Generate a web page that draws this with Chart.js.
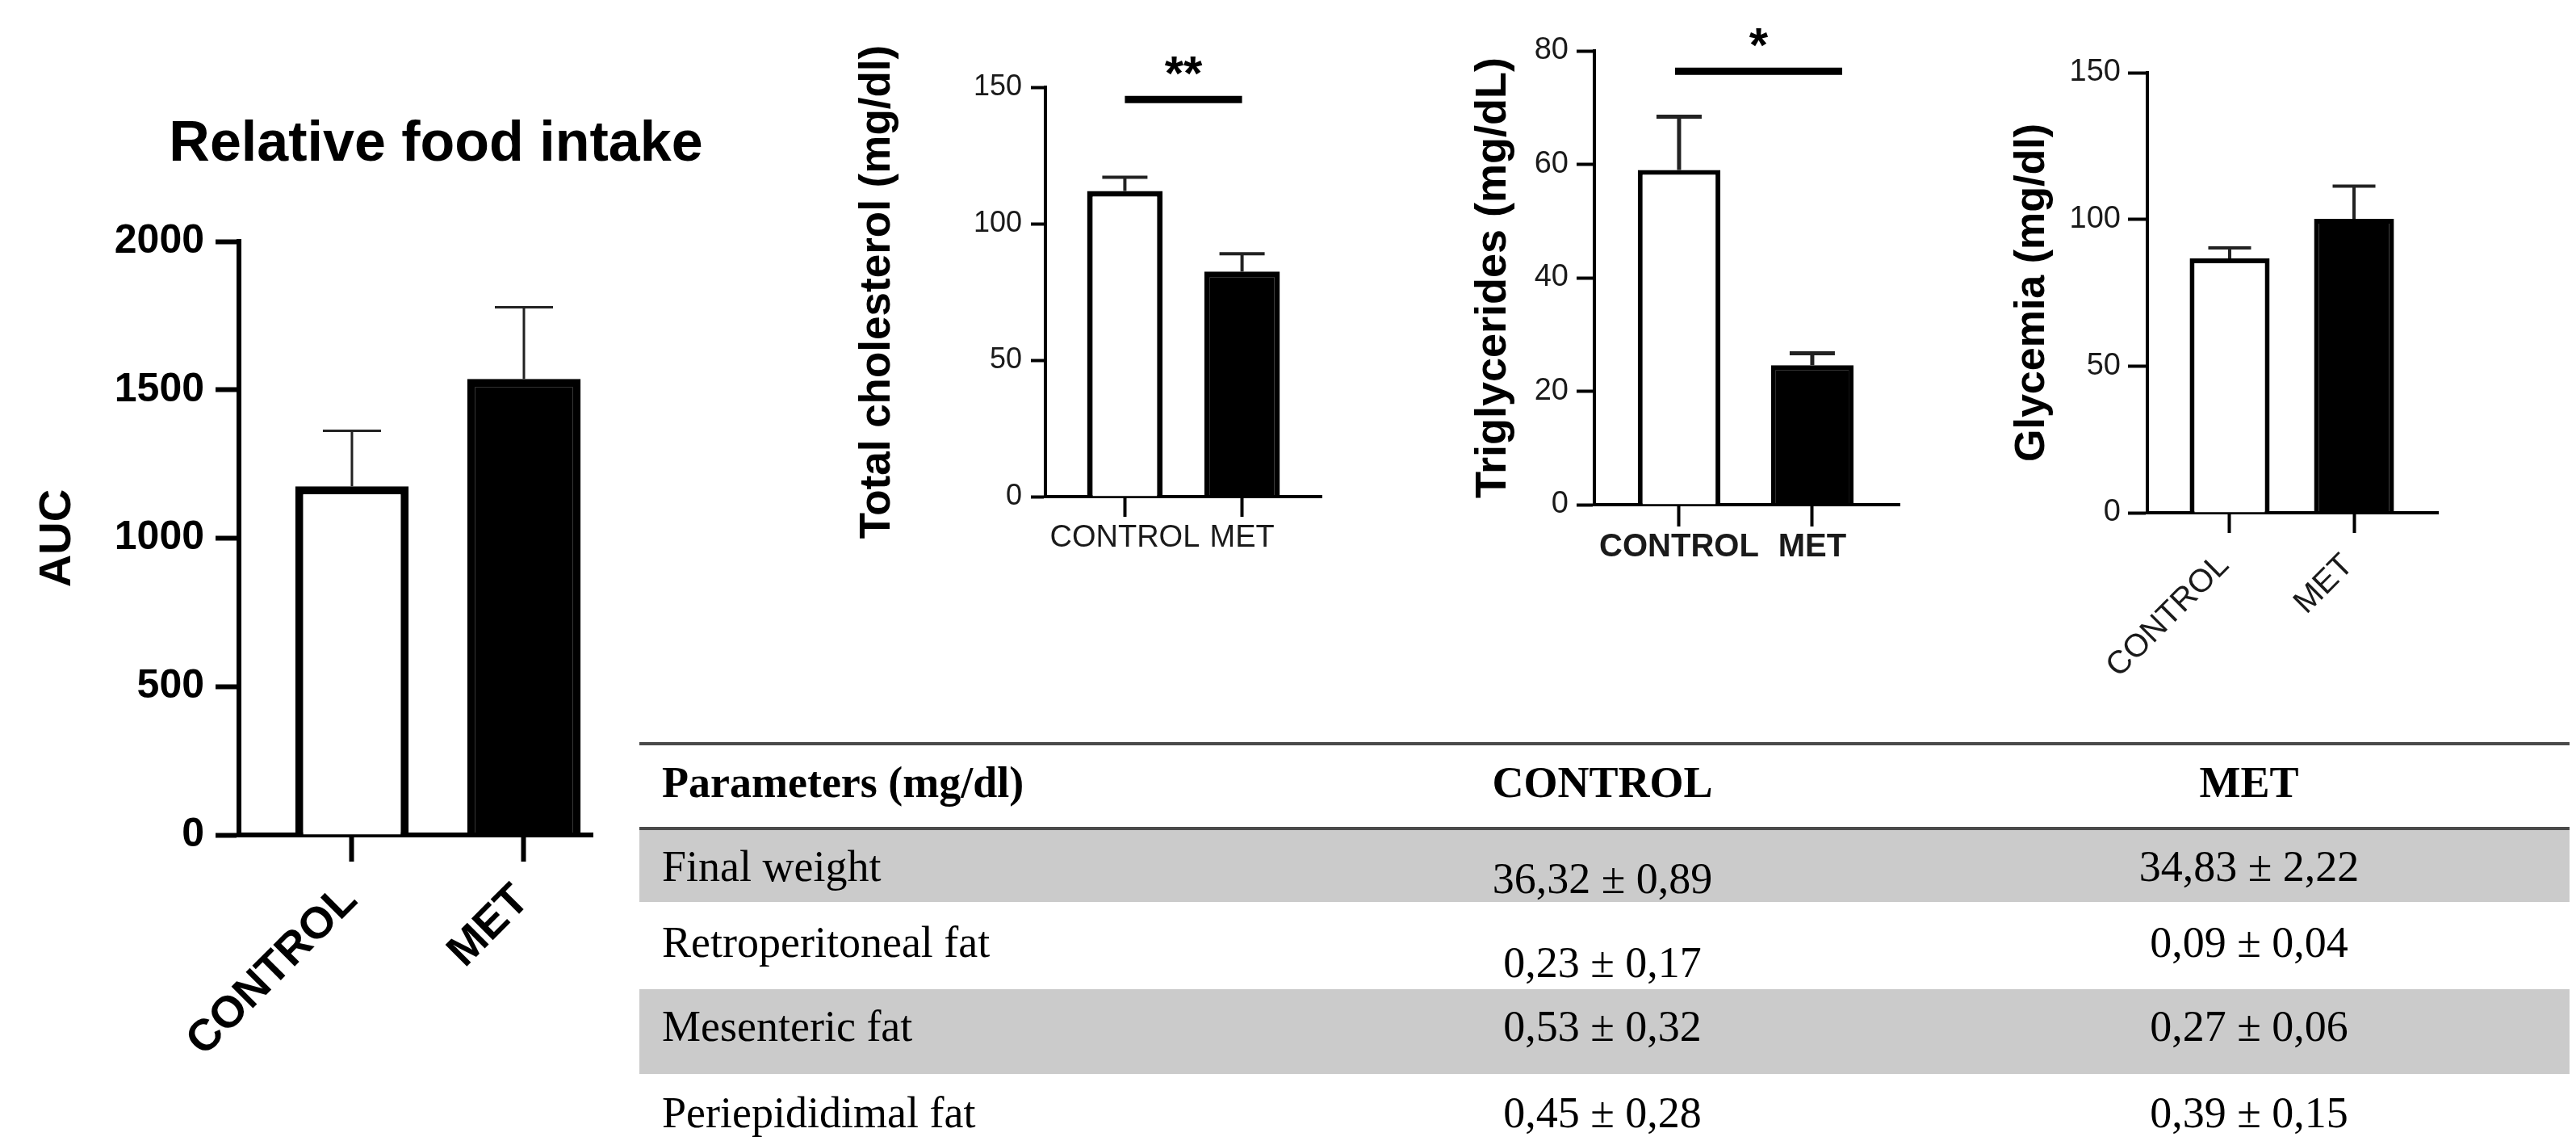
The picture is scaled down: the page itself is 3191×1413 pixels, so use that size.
<!DOCTYPE html>
<html>
<head>
<meta charset="utf-8">
<script src="https://cdn.jsdelivr.net/npm/chart.js@4.4.1/dist/chart.umd.min.js"></script>
<style>
  html, body { margin: 0; padding: 0; background: #fff; }
  body { width: 3191px; height: 1413px; position: relative; overflow: hidden; }
  canvas { position: absolute; }
  #tabela { position: absolute; left: 792px; top: 919px; width: 2391px; height: 494px;
            font-family: "Liberation Serif", "Times New Roman", serif; font-size: 54px; color: #000; }
  .regra { position: absolute; left: 0; width: 100%; height: 4px; background: #4a4a4a; }
  .faixa { position: absolute; left: 0; width: 100%; background: #cbcbcb; }
  .txt { position: absolute; white-space: nowrap; line-height: 54px; }
  .centro { transform: translateX(-50%); }
  .neg { font-weight: bold; }
</style>
</head>
<body>
<canvas id="consumo" width="1080" height="1413" style="left:0;top:0"></canvas>
<canvas id="colesterol" width="700" height="720" style="left:1000px;top:0"></canvas>
<canvas id="triglicerides" width="700" height="720" style="left:1700px;top:0"></canvas>
<canvas id="glicemia" width="700" height="900" style="left:2400px;top:0"></canvas>
<div id="tabela"></div>

<script>
const grupos = ['CONTROL', 'MET'];

// Relative food intake (AUC)
const consumoMedia = [1175, 1537];
const consumoErro = [187, 241];
const consumoTicks = [0, 500, 1000, 1500, 2000];

// Total cholesterol (mg/dl)
const colesterolMedia = [112, 82.5];
const colesterolErro = [5, 6.5];
const colesterolTicks = [0, 50, 100, 150];

// Triglycerides (mg/dL)
const trigliceridesMedia = [59, 24.6];
const trigliceridesErro = [9.4, 2.1];
const trigliceridesTicks = [0, 20, 40, 60, 80];

// Glycemia (mg/dl)
const glicemiaMedia = [86.7, 100.2];
const glicemiaErro = [3.6, 11.1];
const glicemiaTicks = [0, 50, 100, 150];

// tabela
const cabecalho = ['Parameters (mg/dl)', 'CONTROL', 'MET'];
const parametros = ['Final weight', 'Retroperitoneal fat', 'Mesenteric fat', 'Periepididimal fat'];
const valoresControl = ['36,32 ± 0,89', '0,23 ± 0,17', '0,53 ± 0,32', '0,45 ± 0,28'];
const valoresMet = ['34,83 ± 2,22', '0,09 ± 0,04', '0,27 ± 0,06', '0,39 ± 0,15'];

Chart.defaults.font.family = '"Liberation Sans", Arial, sans-serif';

const barrasErro = {
  id: 'barrasErro',
  afterDatasetsDraw(chart, args, opts) {
    const { ctx } = chart;
    const x = chart.scales.x;
    const y = chart.scales.y;
    const pontos = chart.data.datasets[0].data;
    ctx.save();
    ctx.strokeStyle = opts.cor;
    ctx.lineWidth = opts.largura;
    ctx.lineCap = 'butt';
    opts.erros.forEach((e, i) => {
      const px = x.getPixelForValue(pontos[i].x);
      const yBarra = y.getPixelForValue(pontos[i].y);
      const yTopo = y.getPixelForValue(pontos[i].y + e);
      ctx.beginPath();
      ctx.moveTo(px, yBarra);
      ctx.lineTo(px, yTopo);
      ctx.moveTo(px - opts.cap / 2, yTopo);
      ctx.lineTo(px + opts.cap / 2, yTopo);
      ctx.stroke();
    });
    const sig = opts.sig;
    if (sig) {
      const x1 = x.getPixelForValue(1) + sig.extra[0];
      const x2 = x.getPixelForValue(2) + sig.extra[1];
      const yl = y.getPixelForValue(sig.linha);
      ctx.strokeStyle = '#000';
      ctx.lineWidth = 9;
      ctx.beginPath();
      ctx.moveTo(x1, yl);
      ctx.lineTo(x2, yl);
      ctx.stroke();
      const tam = 60;
      ctx.fillStyle = '#000';
      ctx.font = 'bold ' + tam + 'px "Liberation Sans", Arial, sans-serif';
      ctx.textAlign = 'center';
      ctx.textBaseline = 'alphabetic';
      ctx.fillText(sig.texto, (x1 + x2) / 2, y.getPixelForValue(sig.estrela) + 0.47 * tam);
    }
    ctx.restore();
  }
};

function montarGrafico(id, p) {
  const escalas = {
    x: {
      type: 'linear',
      min: p.xMin,
      max: p.xMax,
      offset: false,
      afterBuildTicks: s => { s.ticks = grupos.map((g, i) => ({ value: i + 1 })); },
      afterFit: s => { s.height = p.alturaX; },
      ticks: {
        autoSkip: false,
        minRotation: p.rot,
        maxRotation: p.rot,
        padding: p.xPad,
        labelOffset: p.xDesloc || 0,
        color: p.corTexto,
        font: p.fonteX,
        callback: v => grupos[v - 1]
      },
      grid: { offset: false, drawOnChartArea: false, tickLength: p.tickX, tickWidth: p.eixo, tickColor: '#000' },
      border: { color: '#000', width: p.eixo }
    },
    y: {
      min: 0,
      max: p.ticks[p.ticks.length - 1],
      afterBuildTicks: s => { s.ticks = p.ticks.map(v => ({ value: v })); },
      afterFit: s => { s.width = p.larguraY; },
      ticks: { padding: p.yPad, color: p.corTexto, font: p.fonteY, callback: v => String(v) },
      grid: { drawOnChartArea: false, tickLength: p.tickY, tickWidth: p.eixo, tickColor: '#000' },
      border: { color: '#000', width: p.eixo },
      title: {
        display: true,
        text: p.tituloY,
        color: '#000',
        font: { size: p.tamTituloY, weight: 'bold', lineHeight: 1.2 },
        padding: { top: p.padTituloY, bottom: 0 }
      }
    }
  };
  // espaço vazio à direita, para o título ficar centrado como no original
  if (p.espacoDir) {
    escalas.vazio = {
      type: 'linear',
      position: 'right',
      grid: { display: false },
      border: { display: false },
      ticks: { display: false },
      afterFit: s => { s.width = p.espacoDir; }
    };
  }
  return new Chart(document.getElementById(id), {
    type: 'bar',
    data: {
      datasets: [{
        data: p.media.map((v, i) => ({ x: i + 1, y: v })),
        backgroundColor: ['#ffffff', '#000000'],
        borderColor: '#000000',
        borderWidth: p.borda,
        barPercentage: p.barra,
        categoryPercentage: 1
      }]
    },
    options: {
      responsive: false,
      animation: false,
      layout: { padding: p.padding },
      plugins: {
        legend: { display: false },
        tooltip: { enabled: false },
        title: p.titulo || { display: false },
        barrasErro: { erros: p.erro, cor: '#222', largura: p.larguraErro, cap: p.cap, sig: p.sig }
      },
      scales: escalas
    },
    plugins: [barrasErro]
  });
}

montarGrafico('consumo', {
  media: consumoMedia, erro: consumoErro, ticks: consumoTicks,
  titulo: {
    display: true, text: 'Relative food intake', color: '#000',
    font: { size: 70, weight: 'bold', lineHeight: 1.2 },
    padding: { top: 138, bottom: 77 }
  },
  padding: { left: 0, right: 0, top: 0, bottom: 0 },
  espacoDir: 346,
  xMin: 0.343, xMax: 2.399, barra: 0.66, borda: 10,
  alturaX: 379, larguraY: 296, eixo: 6,
  tickX: 33, xPad: 16, xDesloc: -2, rot: 45, fonteX: { size: 55, weight: 'bold' },
  tickY: 29, yPad: 14, fonteY: { size: 50, weight: 'bold' },
  corTexto: '#000',
  tituloY: 'AUC', tamTituloY: 56, padTituloY: 38,
  larguraErro: 3, cap: 72
});

montarGrafico('colesterol', {
  media: colesterolMedia, erro: colesterolErro, ticks: colesterolTicks,
  padding: { left: 0, right: 63, top: 108, bottom: 0 },
  xMin: 0.322, xMax: 2.678, barra: 0.645, borda: 7,
  alturaX: 105, larguraY: 295, eixo: 4,
  tickX: 25, xPad: 4, rot: 0, fonteX: { size: 38 },
  tickY: 18, yPad: 11, fonteY: { size: 36 },
  corTexto: '#1a1a1a',
  tituloY: 'Total cholesterol (mg/dl)', tamTituloY: 53, padTituloY: 56,
  larguraErro: 4, cap: 56,
  sig: { texto: '**', linha: 145.5, estrela: 157.5, extra: [0, 0] }
});

montarGrafico('triglicerides', {
  media: trigliceridesMedia, erro: trigliceridesErro, ticks: trigliceridesTicks,
  padding: { left: 0, right: 47, top: 63, bottom: 0 },
  xMin: 0.364, xMax: 2.655, barra: 0.62, borda: 6,
  alturaX: 95, larguraY: 275, eixo: 4,
  tickX: 27, xPad: 2, rot: 0, fonteX: { size: 40, weight: 'bold' },
  tickY: 22, yPad: 10, fonteY: { size: 38 },
  corTexto: '#1a1a1a',
  tituloY: 'Triglycerides (mg/dL)', tamTituloY: 54, padTituloY: 118,
  larguraErro: 5, cap: 56,
  sig: { texto: '*', linha: 76.4, estrela: 82.1, extra: [-5, 37] }
});

montarGrafico('glicemia', {
  media: glicemiaMedia, erro: glicemiaErro, ticks: glicemiaTicks,
  padding: { left: 0, right: 80, top: 90, bottom: 0 },
  xMin: 0.338, xMax: 2.675, barra: 0.643, borda: 6,
  alturaX: 265, larguraY: 260, eixo: 4,
  tickX: 25, xPad: 17, xDesloc: -7, rot: 45, fonteX: { size: 40 },
  tickY: 24, yPad: 9, fonteY: { size: 38 },
  corTexto: '#1a1a1a',
  tituloY: 'Glycemia (mg/dl)', tamTituloY: 52, padTituloY: 86,
  larguraErro: 4, cap: 53
});

// tabela: posições relativas ao topo da tabela (y = 919)
const tabela = document.getElementById('tabela');
const colunas = [28, 1193, 1994];
const faixas = [[109, 89], [306, 105]];
const regras = [0, 105];
const baseCabecalho = 68;
const linhasBase = [
  [172, 187, 172],
  [266, 291, 266],
  [370, 370, 370],
  [477, 477, 477]
];

faixas.forEach(([topo, altura]) => {
  const d = document.createElement('div');
  d.className = 'faixa';
  d.style.top = topo + 'px';
  d.style.height = altura + 'px';
  tabela.appendChild(d);
});
regras.forEach(topo => {
  const d = document.createElement('div');
  d.className = 'regra';
  d.style.top = topo + 'px';
  tabela.appendChild(d);
});

function escrever(texto, col, base, negrito) {
  const d = document.createElement('div');
  d.className = 'txt' + (col > 0 ? ' centro' : '') + (negrito ? ' neg' : '');
  d.textContent = texto;
  d.style.left = colunas[col] + 'px';
  d.style.top = (base - 45) + 'px';
  tabela.appendChild(d);
}

cabecalho.forEach((t, c) => escrever(t, c, baseCabecalho, true));
parametros.forEach((t, i) => {
  escrever(t, 0, linhasBase[i][0], false);
  escrever(valoresControl[i], 1, linhasBase[i][1], false);
  escrever(valoresMet[i], 2, linhasBase[i][2], false);
});
</script>
</body>
</html>
